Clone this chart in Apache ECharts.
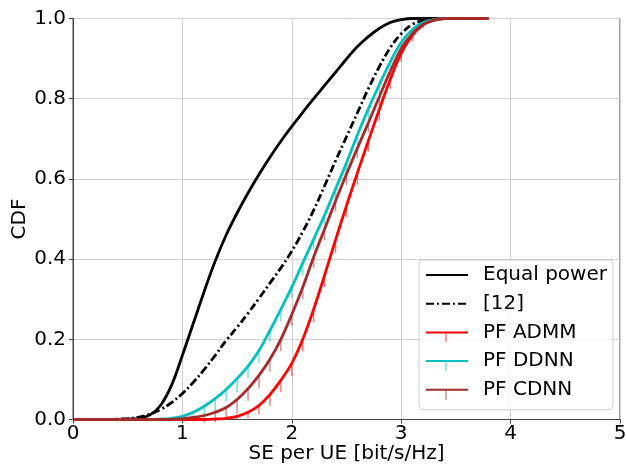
<!DOCTYPE html>
<html>
<head>
<meta charset="utf-8">
<script src="https://cdn.jsdelivr.net/npm/echarts@6/dist/echarts.min.js"></script>
<style>html,body{margin:0;padding:0;background:#fff;}#c{width:626px;height:468px;}</style>
</head>
<body>
<div id="c"></div>
<script>
// x grid of the CDF curves (SE per UE, bit/s/Hz)
var xValues = [0,0.1,0.2,0.3,0.4,0.5,0.6,0.7,0.8,0.9,1.0,1.1,1.2,1.3,1.4,1.5,1.6,1.7,1.8,1.9,2.0,2.1,2.2,2.3,2.4,2.5,2.6,2.7,2.8,2.9,3.0,3.1,3.2,3.3,3.4,3.5,3.6,3.7,3.8];
var seriesNames = ['Equal power', '[12]', 'PF ADMM', 'PF DDNN', 'PF CDNN'];
var equalPower = [0,0,0,0,0,0.001,0.003,0.011,0.035,0.085,0.16,0.24,0.32,0.395,0.46,0.515,0.565,0.611,0.654,0.694,0.731,0.766,0.8,0.833,0.866,0.899,0.93,0.955,0.975,0.99,0.997,1,1,1,1,1,1,1,1];
var ref12 = [0,0,0,0,0.001,0.002,0.006,0.013,0.025,0.042,0.065,0.093,0.125,0.16,0.197,0.23,0.265,0.302,0.34,0.378,0.42,0.468,0.522,0.583,0.645,0.705,0.765,0.825,0.88,0.927,0.962,0.985,0.995,1,1,1,1,1,1];
var pfADMM = [0,0,0,0,0,0,0,0,0,0,0,0,0,0.001,0.003,0.008,0.018,0.035,0.062,0.098,0.14,0.2,0.275,0.36,0.448,0.533,0.615,0.695,0.773,0.848,0.913,0.957,0.984,0.996,1,1,1,1,1];
var pfDDNN = [0,0,0,0,0,0,0,0,0.001,0.003,0.008,0.018,0.033,0.052,0.075,0.102,0.133,0.172,0.222,0.275,0.33,0.39,0.45,0.51,0.575,0.64,0.71,0.775,0.835,0.892,0.94,0.972,0.99,0.997,1,1,1,1,1];
var pfCDNN = [0,0,0,0,0,0,0,0,0,0,0.002,0.005,0.01,0.018,0.03,0.05,0.077,0.11,0.15,0.2,0.262,0.33,0.405,0.475,0.545,0.612,0.677,0.74,0.805,0.868,0.925,0.962,0.985,0.996,1,1,1,1,1];
// lower error-bar lengths (CDF units) at the same x grid
var errADMM = [0,0,0,0,0,0,0,0,0,0,0,0,0,0,0.003,0.008,0.015,0.022,0.028,0.03,0.032,0.03,0.033,0.03,0.032,0.028,0.03,0.026,0.028,0.024,0.02,0.015,0.008,0.003,0,0,0,0,0];
var errDDNN = [0,0,0,0,0,0,0,0,0,0.004,0.01,0.018,0.025,0.032,0.03,0.034,0.03,0.032,0.028,0.03,0.027,0.03,0.026,0.028,0.025,0.027,0.024,0.024,0.022,0.02,0.016,0.012,0.006,0.003,0,0,0,0,0];
var errCDNN = [0,0,0,0,0,0,0,0,0,0,0.004,0.01,0.018,0.025,0.03,0.035,0.03,0.033,0.03,0.03,0.028,0.03,0.027,0.028,0.026,0.027,0.025,0.024,0.022,0.02,0.016,0.012,0.006,0.003,0,0,0,0,0];
var xTicks = [0,1,2,3,4,5];
var yTicks = [0,0.2,0.4,0.6,0.8,1.0];

var FONT = 'DejaVu Sans';
function pairs(ys){ return xValues.map(function(x,i){ return [x, ys[i]]; }); }
function errData(ys, es){
  var out = [];
  xValues.forEach(function(x,i){ if (es[i] > 0) out.push([x, ys[i], ys[i] - es[i]]); });
  return out;
}
function lineSeries(name, ys, color, type){
  return {
    name: name, type: 'line', data: pairs(ys), showSymbol: false, symbol: 'none',
    smooth: 0.4, animation: false,
    lineStyle: { color: color, width: 2.8, type: type || 'solid' },
    itemStyle: { color: color }
  };
}
function errSeries(ys, es, color){
  return {
    type: 'custom', data: errData(ys, es), animation: false, silent: true,
    encode: { x: 0, y: [1, 2] },
    renderItem: function(params, api){
      var p1 = api.coord([api.value(0), api.value(1)]);
      var p2 = api.coord([api.value(0), api.value(2)]);
      return { type: 'line', shape: { x1: p1[0], y1: p1[1], x2: p2[0], y2: p2[1] },
               style: { stroke: color, lineWidth: 1.4, opacity: 0.55 } };
    }
  };
}

var chart = echarts.init(document.getElementById('c'), null, { renderer: 'canvas' });
var axisCommon = {
  axisLine: { show: true, lineStyle: { color: '#444', width: 1 } },
  axisTick: { show: true, length: 4, lineStyle: { color: '#444' } },
  axisLabel: { color: '#000', fontSize: 20, fontFamily: FONT },
  splitLine: { show: true, lineStyle: { color: '#d0d0d0', width: 1 } },
  nameTextStyle: { color: '#000', fontSize: 20, fontFamily: FONT },
  nameMoveOverlap: false
};
chart.setOption({
  backgroundColor: '#fff',
  grid: { left: 73, right: 6, top: 18.5, bottom: 48.5, show: true, borderColor: '#444', borderWidth: 1,
          containLabel: false, outerBoundsMode: 'none' },
  xAxis: Object.assign({}, axisCommon, {
    type: 'value', min: xTicks[0], max: xTicks[xTicks.length-1], interval: 1,
    name: 'SE per UE [bit/s/Hz]', nameLocation: 'middle', nameGap: 24,
    axisLabel: Object.assign({}, axisCommon.axisLabel, { margin: 4 })
  }),
  yAxis: Object.assign({}, axisCommon, {
    type: 'value', min: yTicks[0], max: yTicks[yTicks.length-1], interval: 0.2,
    name: 'CDF', nameLocation: 'middle', nameGap: 43,
    axisLabel: Object.assign({}, axisCommon.axisLabel, { margin: 7, formatter: function(v){ return v.toFixed(1); } })
  }),
  legend: {
    orient: 'vertical', left: 419, top: 260, padding: [5, 6, 10, 6],
    itemWidth: 42, itemHeight: 20, itemGap: 8.7,
    itemStyle: { opacity: 0, borderWidth: 0 },
    backgroundColor: 'rgba(255,255,255,0.8)', borderColor: '#cccccc', borderWidth: 1, borderRadius: 4,
    textStyle: { fontSize: 20, fontFamily: FONT, color: '#000', padding: [0, 0, 0, 10], lineHeight: 20 },
    data: seriesNames
  },
  series: [
    lineSeries(seriesNames[0], equalPower, '#000000'),
    lineSeries(seriesNames[1], ref12, '#000000', [8, 3, 2, 3]),
    errSeries(pfADMM, errADMM, '#ff0000'),
    lineSeries(seriesNames[2], pfADMM, '#ff0000'),
    errSeries(pfDDNN, errDDNN, '#00bfbf'),
    lineSeries(seriesNames[3], pfDDNN, '#00bfbf'),
    errSeries(pfCDNN, errCDNN, '#a52a2a'),
    lineSeries(seriesNames[4], pfCDNN, '#a52a2a')
  ],
  graphic: [
    { type: 'line', shape: { x1: 446, y1: 332, x2: 446, y2: 342 }, style: { stroke: '#ff0000', lineWidth: 1.4, opacity: 0.55 }, z: 100 },
    { type: 'line', shape: { x1: 446, y1: 361, x2: 446, y2: 371 }, style: { stroke: '#00bfbf', lineWidth: 1.4, opacity: 0.55 }, z: 100 },
    { type: 'line', shape: { x1: 446, y1: 390, x2: 446, y2: 400 }, style: { stroke: '#a52a2a', lineWidth: 1.4, opacity: 0.55 }, z: 100 }
  ]
});
</script>
</body>
</html>
